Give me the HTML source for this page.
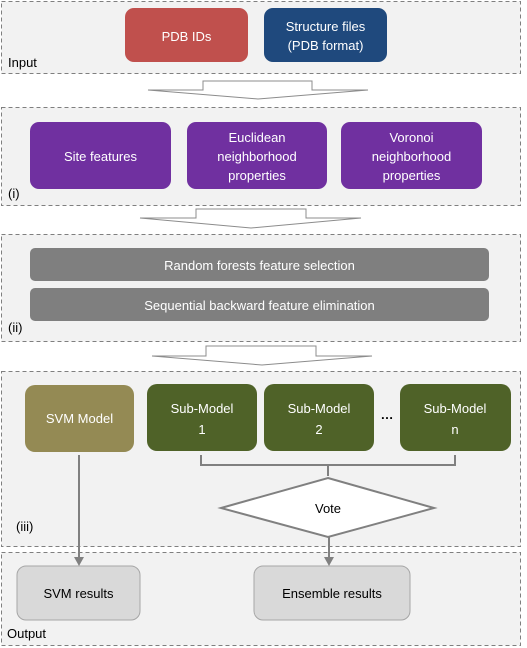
<!DOCTYPE html>
<html><head><meta charset="utf-8"><style>
html,body{margin:0;padding:0;background:#fff}
svg{display:block}
text{font-family:"Liberation Sans",sans-serif;font-size:13px}
.w{fill:#fff;text-anchor:middle}
.k{fill:#000}
.p{fill:#f2f2f2;stroke:#7f7f7f;stroke-dasharray:4 3;stroke-width:1}
.ar{fill:#fff;stroke:#8c8c8c;stroke-width:1}
</style></head><body>
<svg width="527" height="648" viewBox="0 0 527 648" xmlns="http://www.w3.org/2000/svg">
<!-- Input -->
<rect class="p" x="1.5" y="1.5" width="519" height="72"/>
<rect x="125" y="8" width="123" height="54" rx="9" fill="#c0504d"/>
<text class="w" x="186.5" y="41">PDB IDs</text>
<rect x="264" y="8" width="123" height="54" rx="9" fill="#1f497d"/>
<text class="w" x="325.5" y="31">Structure files</text>
<text class="w" x="325.5" y="50">(PDB format)</text>
<text class="k" x="8" y="67">Input</text>
<polygon class="ar" points="203,81 312,81 312,90 368,90 258,99 148,90 203,90"/>
<!-- (i) -->
<rect class="p" x="1.5" y="107.5" width="519" height="98"/>
<rect x="30" y="122" width="141" height="67" rx="9" fill="#7030a0"/>
<text class="w" x="100.5" y="161">Site features</text>
<rect x="187" y="122" width="140" height="67" rx="9" fill="#7030a0"/>
<text class="w" x="257" y="142">Euclidean</text>
<text class="w" x="257" y="161">neighborhood</text>
<text class="w" x="257" y="180">properties</text>
<rect x="341" y="122" width="141" height="67" rx="9" fill="#7030a0"/>
<text class="w" x="411.5" y="142">Voronoi</text>
<text class="w" x="411.5" y="161">neighborhood</text>
<text class="w" x="411.5" y="180">properties</text>
<text class="k" x="8" y="198">(i)</text>
<polygon class="ar" points="196,209 306,209 306,218 361,218 251,228 140,218 196,218"/>
<!-- (ii) -->
<rect class="p" x="1.5" y="234.5" width="519" height="107"/>
<rect x="30" y="248" width="459" height="33" rx="5" fill="#7f7f7f"/>
<text class="w" x="259.5" y="270">Random forests feature selection</text>
<rect x="30" y="288" width="459" height="33" rx="5" fill="#7f7f7f"/>
<text class="w" x="259.5" y="310">Sequential backward feature elimination</text>
<text class="k" x="8" y="332">(ii)</text>
<polygon class="ar" points="206,346 316,346 316,356 372,356 262,365 152,356 206,356"/>
<!-- (iii) -->
<rect class="p" x="1.5" y="371.5" width="519" height="175"/>
<rect x="25" y="385" width="109" height="67" rx="10" fill="#948a54"/>
<text class="w" x="79.5" y="423">SVM Model</text>
<rect x="147" y="384" width="110" height="67" rx="10" fill="#4f6228"/>
<text class="w" x="202" y="413">Sub-Model</text><text class="w" x="202" y="434">1</text>
<rect x="264" y="384" width="110" height="67" rx="10" fill="#4f6228"/>
<text class="w" x="319" y="413">Sub-Model</text><text class="w" x="319" y="434">2</text>
<text class="k" x="387" y="419" style="text-anchor:middle;font-weight:bold">…</text>
<rect x="400" y="384" width="111" height="67" rx="10" fill="#4f6228"/>
<text class="w" x="455" y="413">Sub-Model</text><text class="w" x="455" y="434">n</text>
<path d="M201,455 V465 H455 V455 M328,465 V476" fill="none" stroke="#808080" stroke-width="2"/>
<polygon points="328,478 434,508 328,537 221,508" fill="#fff" stroke="#808080" stroke-width="2"/>
<text class="k" x="328" y="513" style="text-anchor:middle">Vote</text>
<text class="k" x="16" y="531">(iii)</text>
<!-- Output -->
<rect class="p" x="1.5" y="552.5" width="519" height="93"/>
<rect x="17" y="566" width="123" height="54" rx="9" fill="#d9d9d9" stroke="#a6a6a6"/>
<text class="k" x="78.5" y="598" style="text-anchor:middle">SVM results</text>
<rect x="254" y="566" width="156" height="54" rx="9" fill="#d9d9d9" stroke="#a6a6a6"/>
<text class="k" x="332" y="598" style="text-anchor:middle">Ensemble results</text>
<text class="k" x="7" y="638">Output</text>
<!-- arrows -->
<line x1="79" y1="455" x2="79" y2="560" stroke="#808080" stroke-width="2"/>
<polygon points="74,557 84,557 79,566" fill="#808080"/>
<line x1="329" y1="537" x2="329" y2="560" stroke="#808080" stroke-width="2"/>
<polygon points="324,557 334,557 329,566" fill="#808080"/>
</svg>
</body></html>
